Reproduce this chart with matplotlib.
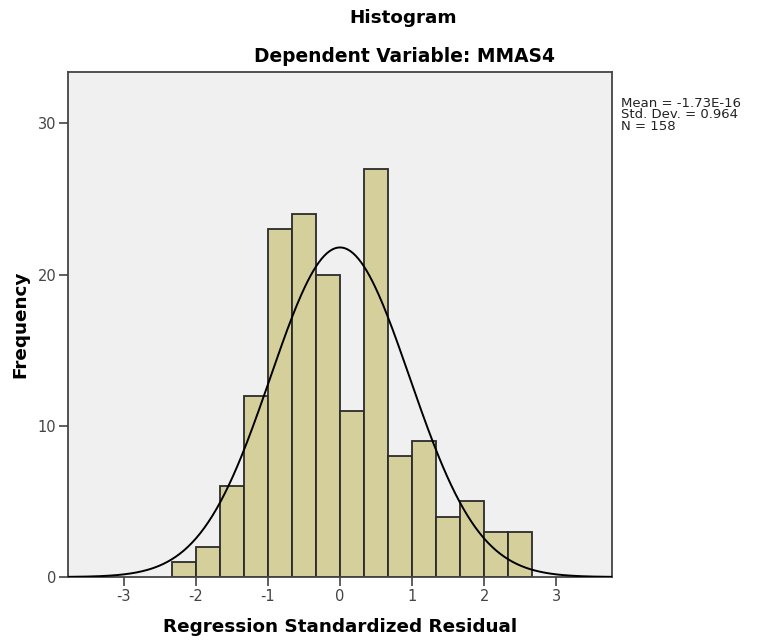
import matplotlib
matplotlib.use("Agg")
import matplotlib.pyplot as plt
import numpy as np

plt.rcParams["axes.unicode_minus"] = False

# histogram of regression standardized residuals (bin width 1/3)
bin_edges = np.linspace(-7 / 3, 8 / 3, 16)
counts = [1, 2, 6, 12, 23, 24, 20, 11, 27, 8, 9, 4, 5, 3, 3]

mean = -1.73e-16
std_dev = 0.964
n_obs = 158

x_ticks = [-3, -2, -1, 0, 1, 2, 3]
y_ticks = [0, 10, 20, 30]

bar_color = "#d5d09b"
bg_color = "#f0f0f0"
edge_color = "#2b2b2b"

fig = plt.figure(figsize=(7.6, 6.41), dpi=100)
ax = fig.add_axes([68 / 760, 64 / 641, 544 / 760, 505 / 641])
ax.set_facecolor(bg_color)

widths = np.diff(bin_edges)
ax.bar(bin_edges[:-1], counts, width=widths, align="edge",
       color=bar_color, edgecolor=edge_color, linewidth=1.3, zorder=2)

# fitted normal curve scaled to counts
xs = np.linspace(-3.77, 3.77, 400)
bw = widths[0]
ys = n_obs * bw / (std_dev * np.sqrt(2 * np.pi)) * np.exp(-0.5 * ((xs - mean) / std_dev) ** 2)
ax.plot(xs, ys, color="black", linewidth=1.4, zorder=3)

ax.set_xlim(-3.77, 3.77)
ax.set_ylim(0, 33.4)
ax.set_xticks(x_ticks)
ax.set_yticks(y_ticks)
ax.tick_params(direction="out", length=6.5, width=1.2, color="#444444",
               labelsize=10.5, labelcolor="#444444", pad=2)
for s in ax.spines.values():
    s.set_color("#444444")
    s.set_linewidth(1.3)

ax.set_xlabel("Regression Standardized Residual", fontsize=13.2,
              fontweight="bold", labelpad=10)
ax.set_ylabel("Frequency", fontsize=13.2, fontweight="bold", labelpad=6)

fig.text(403 / 760, 1 - 18 / 641, "Histogram", ha="center", va="center",
         fontsize=13.2, fontweight="bold")
fig.text(404 / 760, 1 - 57 / 641, "Dependent Variable: MMAS4", ha="center",
         va="center", fontsize=13.4, fontweight="bold")

stats_text = "Mean = -1.73E-16\nStd. Dev. = 0.964\nN = %d" % n_obs
fig.text(621 / 760, 1 - 97 / 641, stats_text, ha="left", va="top",
         fontsize=9.5, color="#222222", linespacing=0.85)

fig.savefig("out.png", dpi=100)
